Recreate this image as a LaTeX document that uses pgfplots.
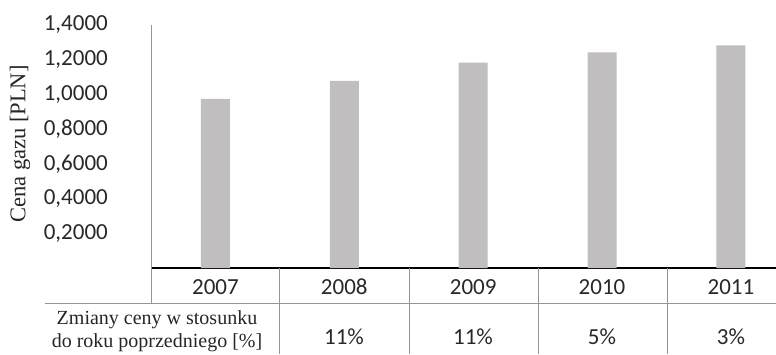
\documentclass[border=0pt]{standalone}
\usepackage{pgfplots}
\pgfplotsset{compat=1.18}
\usepackage{fontspec}
\setmainfont{Carlito}
\newfontfamily\seriffont{Liberation Serif}
\definecolor{bargray}{RGB}{192,190,191}
\definecolor{txt}{RGB}{40,40,40}
\definecolor{rule}{RGB}{150,150,150}
\begin{document}
\begin{tikzpicture}[x=1pt,y=1pt]
\useasboundingbox (0,0) rectangle (776,354);
\begin{axis}[
  at={(151pt,86pt)}, anchor=south west,
  scale only axis, width=625pt, height=243pt,
  xmin=-0.5, xmax=4.35, ymin=0, ymax=1.4,
  axis x line*=bottom, axis y line*=left,
  x axis line style={black, line width=1.3pt, -},
  y axis line style={rule, line width=0.7pt, -},
  ybar, bar width=29pt,
  xtick={0,1,2,3,4},
  xticklabels={2007,2008,2009,2010,2011},
  major tick length=0pt,
  xticklabel style={anchor=center, yshift=-19pt, font=\fontsize{23}{27}\selectfont, text=txt},
  ytick={0.2,0.4,0.6,0.8,1.0,1.2,1.4},
  scaled y ticks=false,
  yticklabel style={/pgf/number format/fixed, /pgf/number format/fixed zerofill,
    /pgf/number format/precision=4, /pgf/number format/use comma,
    /pgf/number format/assume math mode=true,
    anchor=east, inner sep=0pt, xshift=-43pt, font=\fontsize{23}{27}\selectfont, text=txt},
  ylabel={Cena gazu [PLN]},
  ylabel style={at={(axis description cs:-0.2096,0.51)}, anchor=center, font=\seriffont\fontsize{22.5}{26}\selectfont, text=black!85},
  clip=false,
]
\addplot[fill=bargray, draw=none] coordinates {(0,0.974) (1,1.078) (2,1.183) (3,1.243) (4,1.283)};
\end{axis}
\draw[rule, line width=0.7pt] (45,51) -- (776,51);
\draw[rule, line width=0.7pt] (151,86) -- (151,51);
\foreach \xx in {279,409,538,667} \draw[rule, line width=0.7pt] (\xx,86) -- (\xx,0);
\node[font=\fontsize{23}{27}\selectfont, text=txt] at (344,17) {11\%};
\node[font=\fontsize{23}{27}\selectfont, text=txt] at (473,17) {11\%};
\node[font=\fontsize{23}{27}\selectfont, text=txt] at (602,17) {5\%};
\node[font=\fontsize{23}{27}\selectfont, text=txt] at (731,17) {3\%};
\node[font=\seriffont\fontsize{20}{23}\selectfont, text=black!85, align=center] at (157,22.5) {Zmiany ceny w stosunku\\do roku poprzedniego [\%]};
\end{tikzpicture}
\end{document}
